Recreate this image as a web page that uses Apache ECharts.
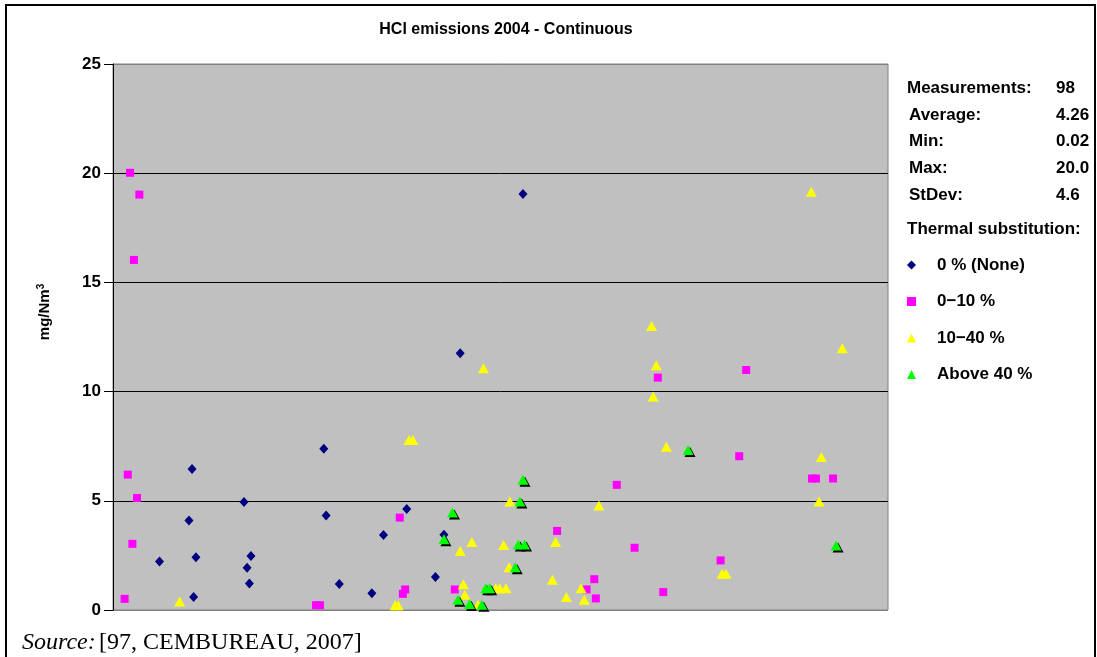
<!DOCTYPE html>
<html><head><meta charset="utf-8">
<script src="https://cdn.jsdelivr.net/npm/echarts@6/dist/echarts.min.js"></script>
<style>html,body{margin:0;padding:0;background:#fff}#c{width:1097px;height:657px}</style>
</head><body><div id="c"></div>
<script>
// Measurement position (x, arbitrary order index 0-100) and value (mg/Nm3)
const none0 = [[10.2,6.46],[16.9,4.94],[9.8,4.10],[6.0,2.22],[10.7,2.42],[17.8,2.47],[17.3,1.93],[17.6,1.21],[10.4,0.60],
  [44.8,11.76],[27.2,7.38],[27.5,4.33],[37.9,4.62],[34.9,3.43],[42.7,3.44],[41.6,1.51],[29.2,1.19],[33.4,0.77],[52.9,19.05]];
const sub0to10 = [[2.2,20.02],[3.4,19.02],[2.7,16.03],[1.9,6.20],[3.1,5.13],[2.5,3.03],[1.5,0.51],[37.0,4.23],[37.7,0.94],
  [37.4,0.74],[26.2,0.22],[26.7,0.22],[44.1,0.94],[65.0,5.73],[57.3,3.62],[62.1,1.41],[61.1,0.94],[62.3,0.53],[70.3,10.64],
  [80.8,7.04],[67.3,2.85],[78.4,2.27],[71.0,0.82],[81.7,10.99],[90.2,6.02],[90.7,6.02],[92.9,6.02]];
const sub10to40 = [[8.6,0.39],[47.8,11.07],[38.2,7.78],[38.7,7.78],[46.3,3.11],[44.8,2.70],[45.2,1.18],[45.4,0.70],[36.4,0.22],
  [36.8,0.22],[51.2,4.97],[62.7,4.78],[50.4,2.98],[57.1,3.11],[51.1,1.96],[47.1,0.24],[49.4,1.0],[49.9,1.0],[50.7,1.0],
  [56.7,1.38],[60.4,1.0],[58.5,0.59],[60.8,0.47],[69.5,13.0],[70.1,11.21],[69.7,9.77],[71.4,7.48],[78.6,1.66],[79.1,1.66],
  [90.1,19.15],[94.1,11.99],[91.4,7.01],[91.1,4.97]];
const above40 = [[52.5,4.97],[43.8,4.46],[42.7,3.24],[52.3,3.0],[53.1,3.0],[51.9,1.96],[44.5,0.47],[46.0,0.27],[47.6,0.24],
  [48.1,1.0],[48.6,1.0],[74.2,7.33],[93.3,2.95],[52.9,5.96]];
const seriesNames = ['0 % (None)','0\u221210 %','10\u221240 %','Above 40 %'];
const statLabels = ['Measurements:','Average:','Min:','Max:','StDev:'];
const statValues = ['98','4.26','0.02','20.0','4.6'];
const yTicks = [0,5,10,15,20,25];

const chart = echarts.init(document.getElementById('c'), null, {renderer:'canvas'});
const F = 'Arial, "Liberation Sans", sans-serif';
const statRowsY = [88,115,141,168,195];
const statLabelX = [907,909,909,909,909];
const graphics = [
  {type:'rect', shape:{x:6,y:5,width:1089,height:700}, style:{fill:null, stroke:'#000', lineWidth:2}, silent:true}
];
statLabels.forEach((t,i)=>{
  graphics.push({type:'text', x:statLabelX[i], y:statRowsY[i], style:{text:t, font:'bold 17px '+F, fill:'#000', verticalAlign:'middle', textAlign:'left'}});
  graphics.push({type:'text', x:1056, y:statRowsY[i], style:{text:statValues[i], font:'bold 17px '+F, fill:'#000', verticalAlign:'middle', textAlign:'left'}});
});
graphics.push({type:'text', x:907, y:229, style:{text:'Thermal substitution:', font:'bold 17px '+F, fill:'#000', verticalAlign:'middle'}});
graphics.push({type:'text', x:22, y:643, style:{
  text:'{i|Source:} {r|[97, CEMBUREAU, 2007]}', verticalAlign:'middle',
  rich:{i:{fontFamily:'"Liberation Serif", "Times New Roman", serif', fontStyle:'italic', fontSize:24, fill:'#000'},
        r:{fontFamily:'"Liberation Serif", "Times New Roman", serif', fontSize:24, fill:'#000'}}}});
graphics.push({type:'text', x:45, y:312, rotation:Math.PI/2, style:{
  text:'{a|mg/Nm}{s|3}', textAlign:'center', verticalAlign:'middle',
  rich:{a:{fontFamily:F, fontWeight:'bold', fontSize:15, fill:'#000'},
        s:{fontFamily:F, fontWeight:'bold', fontSize:10, fill:'#000', verticalAlign:'top', padding:[0,0,7,0]}}}});

const colors = ['#000080','#FF00FF','#FFFF00','#00FF00'];
const symbols = ['diamond','rect','triangle','triangle'];
const sizes = [[9,10],[8,8],[11,10],[11,10]];
const datas = [none0, sub0to10, sub10to40, above40];

chart.setOption({
  animation:false,
  backgroundColor:'#fff',
  title:{text:'HCl emissions 2004 - Continuous', left:501, textAlign:'center', top:17,
    textStyle:{fontFamily:F, fontWeight:'bold', fontSize:16, color:'#000'}},
  grid:{left:113, right:209, top:64, bottom:47, show:true, backgroundColor:'#C0C0C0', borderColor:'#808080', borderWidth:1},
  xAxis:{type:'value', min:0, max:100, show:false},
  yAxis:{type:'value', min:0, max:25, interval:5,
    axisLine:{show:true, lineStyle:{color:'#000', width:1}},
    axisTick:{show:true, length:9, lineStyle:{color:'#000'}},
    axisLabel:{margin:12, fontFamily:F, fontWeight:'bold', fontSize:17, color:'#000',
      formatter:(v)=> yTicks.includes(v) ? String(v) : ''},
    splitLine:{show:true, lineStyle:{color:['#808080','#000','#000','#000','#000','#808080'], width:1}}
  },
  legend:{orient:'vertical', left:902, top:251, itemWidth:9, itemHeight:9, itemGap:18.5,
    data:seriesNames,
    textStyle:{fontFamily:F, fontWeight:'bold', fontSize:17, color:'#000', lineHeight:18, padding:[0,0,0,16]}},
  graphic:graphics,
  series: seriesNames.map((n,i)=>({
    name:n, type:'scatter', data:datas[i], symbol:symbols[i], symbolSize:sizes[i],
    itemStyle: i===3 ? {color:colors[i], shadowColor:'#000', shadowOffsetX:2, shadowOffsetY:2, shadowBlur:0.01, opacity:1}
                     : {color:colors[i], opacity:1},
    z: 2+i
  }))
});
</script></body></html>
